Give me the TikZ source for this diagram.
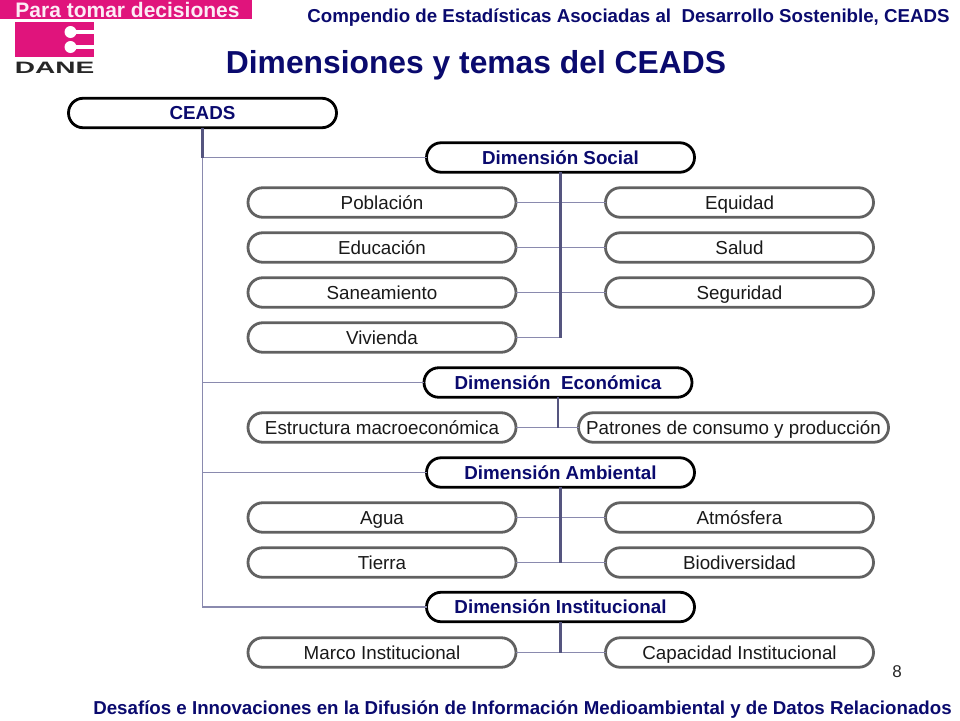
\documentclass[tikz,border=0pt]{standalone}
\usepackage{fontspec}
\setmainfont{Liberation Sans}
\usetikzlibrary{positioning}
\definecolor{daneRosa}{HTML}{E0147C}
\definecolor{tituloAzul}{HTML}{0A0A6E}
\definecolor{lineaClara}{HTML}{8A8AAE}
\definecolor{lineaOscura}{HTML}{55557F}
\tikzset{
  tema/.style={draw=black!62, line width=2.8pt, fill=white, rounded corners=14.7pt, minimum width=268pt, minimum height=29.5pt, outer sep=0pt, inner sep=0pt, text height=17pt, text depth=4pt, font=\fontsize{18.8}{20}\selectfont, text=black!90},
  dimension/.style={tema, draw=black, text=tituloAzul, font=\bfseries\fontsize{18.8}{20}\selectfont},
  rama/.style={color=lineaClara, line width=1.8pt},
  tronco/.style={color=lineaOscura, line width=2.2pt},
  encabezado/.style={text=tituloAzul, font=\bfseries\fontsize{18.7}{20}\selectfont, inner sep=0pt}
}
\begin{document}
\begin{tikzpicture}[x=1pt, y=-1pt]
\useasboundingbox (0,0) rectangle (960,720);

\fill[color=daneRosa] (0,0) -- (252,0) -- (252,19) -- (0,19) -- cycle;
\node[inner sep=0pt, text=white!92!daneRosa, font=\bfseries\fontsize{21}{22}\selectfont] (lema) at (127.5,10) {Para tomar decisiones};

\fill[color=daneRosa] (15,22) rectangle (94,57);
\fill[color=white] (70.5,32) circle (6);
\fill[color=white] (70.5,47) circle (6);
\fill[color=white] (70.5,30) rectangle (94,34);
\fill[color=white] (70.5,45) rectangle (94,49);
\node[inner sep=0pt, text=black!85, font=\bfseries\fontsize{16.5}{18}\selectfont, xscale=1.7] (dane) at (54.5,67.5) {DANE};

\node[encabezado] (compendio) at (628.5,18) {Compendio de Estadísticas Asociadas al\ \ Desarrollo Sostenible, CEADS};
\node[inner sep=0pt, text=tituloAzul, font=\bfseries\fontsize{31.8}{34}\selectfont] (titulo) at (476,65.5) {Dimensiones y temas del CEADS};

\node[dimension] (ceads) at (202.5,113) {CEADS};
\node[dimension] (social) at (560.5,157.5) {Dimensión Social};
\node[dimension] (economica) at (558,382.5) {Dimensión\ \ Económica};
\node[dimension] (ambiental) at (560.5,472.5) {Dimensión Ambiental};
\node[dimension] (institucional) at (560.5,607) {Dimensión Institucional};

\node[tema] (poblacion) at (382,202.5) {Población};
\node[tema] (educacion) at (382,247.5) {Educación};
\node[tema] (saneamiento) at (382,292.5) {Saneamiento};
\node[tema] (vivienda) at (382,337.5) {Vivienda};
\node[tema] (equidad) at (739.5,202.5) {Equidad};
\node[tema] (salud) at (739.5,247.5) {Salud};
\node[tema] (seguridad) at (739.5,292.5) {Seguridad};

\node[tema] (estructura) at (382,427.5) {Estructura macroeconómica};
\node[tema, minimum width=310pt] (patrones) at (733.5,427.5) {Patrones de consumo y producción};

\node[tema] (agua) at (382,517.5) {Agua};
\node[tema] (tierra) at (382,562.5) {Tierra};
\node[tema] (atmosfera) at (739.5,517.5) {Atmósfera};
\node[tema] (biodiversidad) at (739.5,562.5) {Biodiversidad};

\node[tema] (marco) at (382,652.5) {Marco Institucional};
\node[tema] (capacidad) at (739.5,652.5) {Capacidad Institucional};

\coordinate (nudoCeads) at (ceads.south |- social.west);
\coordinate (nudoSocial) at (social.south |- vivienda.east);
\coordinate (nudoEconomica) at (economica.south |- estructura.east);
\coordinate (nudoAmbiental) at (ambiental.south |- tierra.east);
\coordinate (nudoInstitucional) at (institucional.south |- marco.east);

\draw[rama] (ceads.south) |- (social.west);
\draw[rama] (ceads.south) |- (economica.west);
\draw[rama] (ceads.south) |- (ambiental.west);
\draw[rama] (ceads.south) |- (institucional.west);
\draw[tronco] (ceads.south) -- (nudoCeads);

\draw[rama] (poblacion.east) -- (equidad.west);
\draw[rama] (educacion.east) -- (salud.west);
\draw[rama] (saneamiento.east) -- (seguridad.west);
\draw[rama] (vivienda.east) -- (nudoSocial);
\draw[tronco] (social.south) -- (nudoSocial);

\draw[rama] (estructura.east) -- (patrones.west);
\draw[tronco] (economica.south) -- (nudoEconomica);

\draw[rama] (agua.east) -- (atmosfera.west);
\draw[rama] (tierra.east) -- (biodiversidad.west);
\draw[tronco] (ambiental.south) -- (nudoAmbiental);

\draw[rama] (marco.east) -- (capacidad.west);
\draw[tronco] (institucional.south) -- (nudoInstitucional);

\node[inner sep=0pt, text=black!85, font=\fontsize{17}{18}\selectfont] (pagina) at (897,672) {8};
\node[encabezado] (desafios) at (522.5,709.5) {Desafíos e Innovaciones en la Difusión de Información Medioambiental y de Datos Relacionados};
\end{tikzpicture}
\end{document}
